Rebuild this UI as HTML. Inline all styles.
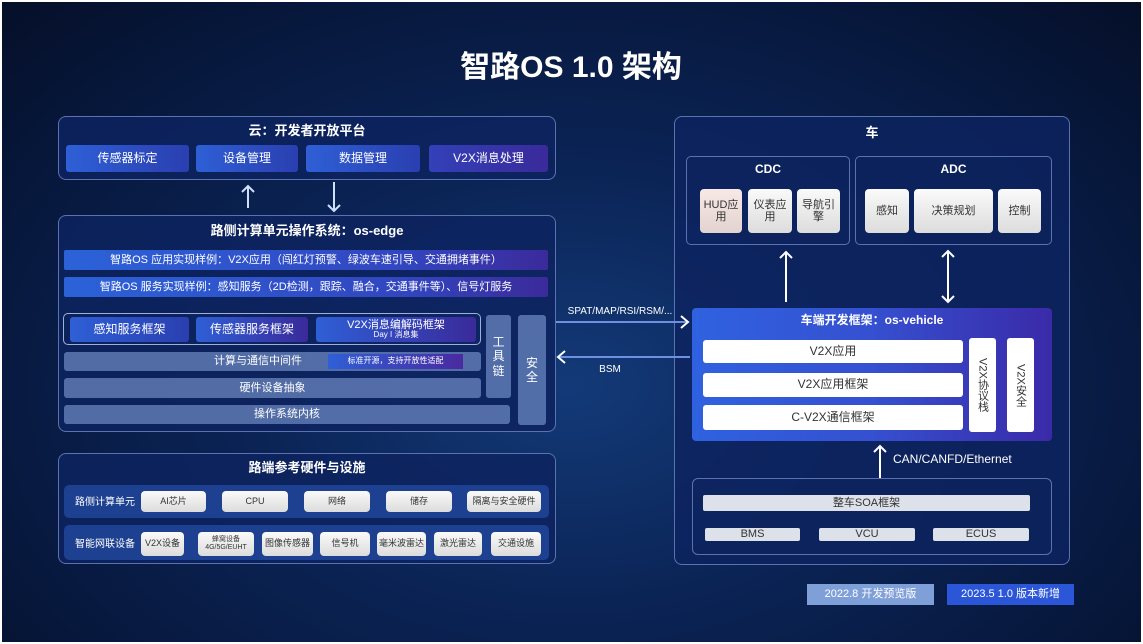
<!DOCTYPE html>
<html><head><meta charset="utf-8"><style>
*{margin:0;padding:0;box-sizing:border-box}
body{width:1143px;height:644px;overflow:hidden;background:#fff;font-family:"Liberation Sans","Noto Sans CJK SC",sans-serif}
#bg{position:absolute;left:2px;top:2px;width:1139px;height:640px;background:radial-gradient(ellipse at 50% 60%,#133a78 0%,#0b2456 40%,#07183d 75%,#050f28 100%);overflow:hidden}
.a{position:absolute;display:flex;align-items:center;justify-content:center;color:#fff;text-align:center;line-height:1.1}
.box{border:1.5px solid #5a73b0;border-radius:8px;background:rgba(13,35,95,0.85)}
.btn{background:linear-gradient(90deg,#2f5fd6,#2a3fb0);border-radius:3px;font-size:12px}
.row{background:linear-gradient(90deg,#2c62d8,#3246c0 70%,#3b2a9a);font-size:11px;border-radius:2px}
.lt{background:rgba(140,170,225,0.55);font-size:11px;border-radius:3px;color:#fff}
.chip{background:linear-gradient(#fafafa,#dcdcdc);color:#333;font-size:9px;border-radius:4px}
.grey{background:#dde1ea;color:#333;font-size:11px;border-radius:2px}
.wh{background:#fff;color:#333;font-size:12px;border-radius:3px}
.t{font-weight:bold;font-size:13px}
</style></head><body><div id="bg"></div>
<div class="a" style="left:400px;top:45px;width:342px;height:44px;font-size:30px;font-weight:bold">智路OS 1.0 架构</div>

<!-- cloud -->
<div class="a box" style="left:58px;top:116px;width:498px;height:64px"></div>
<div class="a t" style="left:58px;top:122px;width:498px;height:18px">云：开发者开放平台</div>
<div class="a btn" style="left:66px;top:145px;width:123px;height:27px">传感器标定</div>
<div class="a btn" style="left:196px;top:145px;width:102px;height:27px">设备管理</div>
<div class="a btn" style="left:306px;top:145px;width:114px;height:27px">数据管理</div>
<div class="a btn" style="left:429px;top:145px;width:119px;height:27px;background:linear-gradient(90deg,#3340b8,#3a2a9a)">V2X消息处理</div>
<div class="a" style="left:560px;top:304px;width:120px;height:14px;font-size:10px">SPAT/MAP/RSI/RSM/...</div>
<div class="a" style="left:590px;top:362px;width:40px;height:14px;font-size:10px">BSM</div>

<!-- edge -->
<div class="a box" style="left:58px;top:215px;width:498px;height:217px"></div>
<div class="a t" style="left:58px;top:222px;width:498px;height:18px">路侧计算单元操作系统：os-edge</div>
<div class="a row" style="left:64px;top:250px;width:484px;height:20px">智路OS 应用实现样例：V2X应用（闯红灯预警、绿波车速引导、交通拥堵事件）</div>
<div class="a row" style="left:64px;top:277px;width:484px;height:20px">智路OS 服务实现样例：感知服务（2D检测，跟踪、融合，交通事件等）、信号灯服务</div>
<div class="a" style="left:63px;top:313px;width:418px;height:32px;border:1.5px solid #9fb0d8;border-radius:5px"></div>
<div class="a btn" style="left:70px;top:317px;width:119px;height:25px">感知服务框架</div>
<div class="a btn" style="left:196px;top:317px;width:112px;height:25px;background:linear-gradient(90deg,#2f5fd6,#3a2a9a)">传感器服务框架</div>
<div class="a btn" style="left:316px;top:317px;width:160px;height:25px;flex-direction:column;font-size:11px;background:linear-gradient(90deg,#2f5fd6,#3a2a9a)">V2X消息编解码框架<span style="font-size:8px">Day I 消息集</span></div>
<div class="a lt" style="left:64px;top:352px;width:417px;height:19px;justify-content:flex-start;padding-left:150px">计算与通信中间件</div>
<div class="a" style="left:328px;top:354px;width:135px;height:15px;background:linear-gradient(90deg,#2f5fd6,#4a2aa0);font-size:8px">标准开源，支持开放性适配</div>
<div class="a lt" style="left:64px;top:378px;width:417px;height:20px">硬件设备抽象</div>
<div class="a lt" style="left:64px;top:405px;width:446px;height:19px">操作系统内核</div>
<div class="a lt" style="left:486px;top:315px;width:25px;height:83px;font-size:12px;line-height:1.2;padding:0 6px">工具链</div>
<div class="a lt" style="left:518px;top:315px;width:28px;height:110px;font-size:12px;padding:0 7px;line-height:1.2">安全</div>

<!-- hardware -->
<div class="a box" style="left:58px;top:453px;width:498px;height:111px"></div>
<div class="a t" style="left:58px;top:460px;width:498px;height:16px">路端参考硬件与设施</div>
<div class="a" style="left:64px;top:485px;width:485px;height:33px;background:#1d4090;border-radius:5px"></div>
<div class="a" style="left:64px;top:525px;width:485px;height:35px;background:#1d4090;border-radius:5px"></div>
<div class="a" style="left:70px;top:495px;width:70px;height:14px;font-size:10px">路侧计算单元</div>
<div class="a" style="left:70px;top:537px;width:70px;height:14px;font-size:10px">智能网联设备</div>
<div class="a chip" style="left:141px;top:491px;width:65px;height:21px">AI芯片</div>
<div class="a chip" style="left:222px;top:491px;width:66px;height:21px">CPU</div>
<div class="a chip" style="left:304px;top:491px;width:66px;height:21px">网络</div>
<div class="a chip" style="left:386px;top:491px;width:66px;height:21px">储存</div>
<div class="a chip" style="left:467px;top:491px;width:74px;height:21px">隔离与安全硬件</div>
<div class="a chip" style="left:141px;top:532px;width:43px;height:24px">V2X设备</div>
<div class="a chip" style="left:198px;top:532px;width:56px;height:24px;flex-direction:column;font-size:7px">蜂窝设备<span>4G/5G/EUHT</span></div>
<div class="a chip" style="left:262px;top:532px;width:51px;height:24px">图像传感器</div>
<div class="a chip" style="left:320px;top:532px;width:50px;height:24px">信号机</div>
<div class="a chip" style="left:377px;top:532px;width:49px;height:24px">毫米波雷达</div>
<div class="a chip" style="left:434px;top:532px;width:48px;height:24px">激光雷达</div>
<div class="a chip" style="left:491px;top:532px;width:50px;height:24px">交通设施</div>

<!-- car -->
<div class="a box" style="left:674px;top:116px;width:396px;height:449px"></div>
<div class="a t" style="left:674px;top:124px;width:396px;height:18px">车</div>
<div class="a" style="left:686px;top:156px;width:164px;height:89px;border:1.5px solid #5a73b0;border-radius:5px"></div>
<div class="a" style="left:855px;top:156px;width:197px;height:89px;border:1.5px solid #5a73b0;border-radius:5px"></div>
<div class="a t" style="left:686px;top:162px;width:164px;height:16px;font-size:12px">CDC</div>
<div class="a t" style="left:855px;top:162px;width:197px;height:16px;font-size:12px">ADC</div>
<div class="a chip" style="left:700px;top:189px;width:42px;height:44px;font-size:11px;background:linear-gradient(#f8e8e6,#e2d2d0)">HUD应<br>用</div>
<div class="a chip" style="left:748px;top:189px;width:44px;height:44px;font-size:11px">仪表应<br>用</div>
<div class="a chip" style="left:797px;top:189px;width:43px;height:44px;font-size:11px">导航引<br>擎</div>
<div class="a chip" style="left:865px;top:189px;width:44px;height:44px;font-size:11px">感知</div>
<div class="a chip" style="left:914px;top:189px;width:79px;height:44px;font-size:11px">决策规划</div>
<div class="a chip" style="left:998px;top:189px;width:43px;height:44px;font-size:11px">控制</div>
<div class="a" style="left:692px;top:308px;width:360px;height:133px;background:linear-gradient(90deg,#2f62e0,#3550d0 50%,#3a2aa8);border-radius:4px"></div>
<div class="a t" style="left:692px;top:313px;width:360px;height:16px;font-size:12px">车端开发框架：os-vehicle</div>
<div class="a wh" style="left:703px;top:340px;width:260px;height:23px">V2X应用</div>
<div class="a wh" style="left:703px;top:373px;width:260px;height:24px">V2X应用框架</div>
<div class="a wh" style="left:703px;top:405px;width:260px;height:25px">C-V2X通信框架</div>
<div class="a wh" style="left:969px;top:338px;width:27px;height:94px;writing-mode:vertical-rl;font-size:11px">V2X协议栈</div>
<div class="a wh" style="left:1007px;top:338px;width:27px;height:94px;writing-mode:vertical-rl;font-size:11px">V2X安全</div>
<div class="a" style="left:893px;top:452px;width:130px;height:16px;font-size:12px;justify-content:flex-start">CAN/CANFD/Ethernet</div>
<div class="a" style="left:692px;top:478px;width:360px;height:77px;border:1.5px solid #5a73b0;border-radius:6px"></div>
<div class="a grey" style="left:703px;top:495px;width:327px;height:16px">整车SOA框架</div>
<div class="a grey" style="left:705px;top:528px;width:95px;height:13px">BMS</div>
<div class="a grey" style="left:819px;top:528px;width:96px;height:13px">VCU</div>
<div class="a grey" style="left:933px;top:528px;width:96px;height:13px">ECUS</div>
<div class="a" style="left:807px;top:584px;width:127px;height:21px;background:#7f9fd8;font-size:11px">2022.8 开发预览版</div>
<div class="a" style="left:947px;top:584px;width:127px;height:21px;background:#2b56d8;font-size:11px">2023.5 1.0 版本新增</div>

<svg style="position:absolute;left:0;top:0" width="1143" height="644">
<g stroke="#cfe0ff" stroke-width="2" fill="none">
<line x1="248" y1="186" x2="248" y2="208"/><polyline points="242,192 248,186 254,192"/>
<line x1="334" y1="182" x2="334" y2="211"/><polyline points="328,205 334,211 340,205"/>
<line x1="556" y1="322" x2="688" y2="322" stroke="#6f8fe0"/><polyline points="681,316 688,322 681,328" stroke="#fff"/>
<line x1="558" y1="357" x2="690" y2="357" stroke="#6f8fe0"/><polyline points="565,351 558,357 565,363" stroke="#fff"/>
<line x1="786" y1="252" x2="786" y2="302" stroke="#fff"/><polyline points="780,258 786,252 792,258" stroke="#fff"/>
<line x1="948" y1="251" x2="948" y2="302" stroke="#fff"/><polyline points="942,257 948,251 954,257" stroke="#fff"/><polyline points="942,296 948,302 954,296" stroke="#fff"/>
<line x1="880" y1="446" x2="880" y2="478" stroke="#fff"/><polyline points="874,452 880,446 886,452" stroke="#fff"/>
</g></svg>
</body></html>
